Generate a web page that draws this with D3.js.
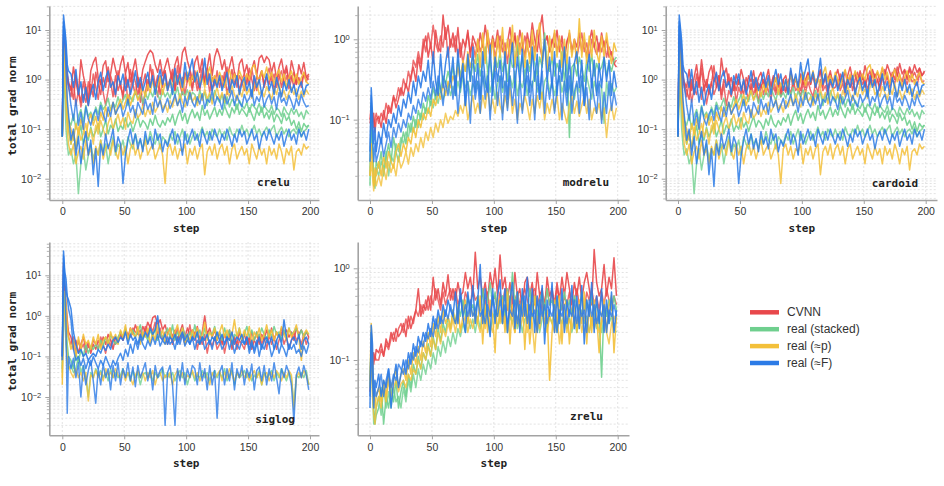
<!DOCTYPE html>
<html>
<head>
<meta charset="utf-8">
<script src="https://cdn.jsdelivr.net/npm/d3@7"></script>
<style>
  html, body { margin: 0; padding: 0; background: #fff; }
  svg { display: block; }
</style>
</head>
<body>
<svg id="chart" width="944" height="486"></svg>
<script>
// ---------------- DATA ----------------
const seriesNames = ["CVNN", "real (stacked)", "real (≈p)", "real (≈F)"];
const seriesColors = ["#e8484b", "#6fcf8e", "#f3c03a", "#2c7be6"];
const panelNames = ["crelu", "modrelu", "cardoid", "siglog", "zrelu"];
const xTicks = [0, 50, 100, 150, 200];
const steps = [0,1,2,3,4,5,
  7,9,11,13,15,17,19,21,23,25,
  27,29,31,33,35,37,39,41,43,45,
  47,49,51,53,55,57,59,61,63,65,
  67,69,71,73,75,77,79,81,83,85,
  87,89,91,93,95,97,99,101,103,105,
  107,109,111,113,115,117,119,121,123,125,
  127,129,131,133,135,137,139,141,143,145,
  147,149,151,153,155,157,159,161,163,165,
  167,169,171,173,175,177,179,181,183,185,
  187,189,191,193,195,197,199];

// ----- crelu -----
const crelu_CVNN = [
 [.1,8,5,2,1.2,.9,
  .6,1.8,.9,.5,2.5,1.2,.7,.4,1.5,2.2,
  2.8,1.1,.8,1.9,2.4,.9,1.3,2.7,1.6,1.0,
  2.0,3.0,1.3,2.2,.9,1.5,2.6,1.1,.7,1.6,
  2.3,3.2,3.9,3.4,2.0,1.4,2.5,1.2,1.8,2.7,
  1.5,.9,2.0,2.9,1.3,3.5,4.5,2.4,1.6,1.0,
  2.2,3.0,1.4,2.6,.9,1.7,3.3,1.2,2.8,4.2,
  3.0,1.6,2.5,1.1,1.8,2.9,1.4,.9,2.1,2.6,
  1.3,2.0,1.0,1.6,2.4,1.2,2.7,3.1,2.2,2.9,
  2.5,1.4,2.2,1.0,1.8,2.6,1.3,1.9,.9,2.4,
  1.5,.8,2.0,1.3,2.2,1.1,1.3],
 [.07,4,3,1.5,1,.7,
  .45,.9,.3,.6,.28,.5,.35,.9,.5,1.3,
  .7,.4,1.0,.55,.3,.6,1.2,.8,.45,1.5,
  .7,.5,1.1,.35,.6,1.4,.9,.5,.8,.3,
  .55,1.0,.7,1.6,.8,.45,1.2,.7,1.5,.6,
  .9,1.3,.6,1.9,.8,1.1,.5,.95,1.4,.7,
  1.2,.6,1.0,1.7,.8,1.3,.55,1.1,.75,1.5,
  .7,1.2,.9,1.8,.6,1.0,1.4,.7,1.2,.9,
  .6,1.3,.8,1.6,.95,.6,1.1,1.5,.8,1.2,
  1.7,.9,1.3,.7,1.1,1.5,.8,1.2,.65,1.0,
  1.4,.8,1.1,.7,1.3,.9,1.2],
 [.09,6,4,1.8,1.3,.8,
  .7,.4,1.2,.6,.35,.9,.5,.3,.8,.45,
  1.4,.8,.5,1.1,.7,1.8,.9,.45,1.2,.6,
  .9,.4,1.3,.7,1.6,.8,.5,1.1,.35,.8,
  1.3,.6,2.0,1.0,.7,1.2,.5,.9,1.5,.7,
  1.0,1.6,.6,1.2,.8,.5,1.4,.9,1.1,.6,
  1.5,.9,.6,1.3,.8,1.7,1.0,.6,1.2,.8,
  1.1,.7,1.4,.5,.9,1.6,.8,1.2,.6,1.0,
  1.3,.8,1.7,1.0,.6,1.2,.9,1.5,.7,1.1,
  .8,1.4,.6,1.0,1.3,.7,1.1,1.6,.9,1.2,
  .7,1.2,1.0,.8,1.4,1.1,1.0]
];
const crelu_stacked = [
 [.07,1.5,.8,.3,.15,.1,
  .05,.09,.04,.07,.12,.05,.08,.06,.11,.07,
  .09,.13,.07,.1,.15,.08,.12,.1,.16,.09,
  .12,.1,.17,.11,.14,.09,.13,.18,.11,.15,
  .13,.1,.16,.12,.19,.13,.11,.15,.12,.17,
  .14,.2,.12,.18,.24,.15,.21,.13,.19,.25,
  .17,.22,.15,.3,.19,.24,.16,.21,.28,.18,
  .25,.19,.3,.22,.17,.27,.21,.32,.2,.26,
  .22,.18,.27,.2,.15,.24,.19,.28,.17,.22,
  .16,.23,.14,.2,.17,.13,.21,.15,.18,.12,
  .15,.1,.14,.09,.13,.11,.12],
 [.07,1,.5,.1,.05,.03,
  .04,.02,.03,.005,.02,.04,.015,.03,.05,.025,
  .04,.03,.06,.035,.05,.02,.04,.07,.03,.05,
  .04,.06,.03,.07,.05,.04,.08,.05,.06,.04,
  .07,.05,.09,.06,.05,.08,.04,.07,.06,.05,
  .08,.06,.09,.05,.07,.1,.06,.08,.05,.07,
  .09,.06,.08,.11,.07,.09,.06,.1,.08,.07,
  .1,.07,.09,.06,.11,.08,.07,.1,.08,.12,
  .08,.1,.07,.09,.12,.08,.1,.07,.09,.11,
  .08,.1,.12,.07,.09,.11,.08,.1,.07,.09,
  .1,.08,.11,.07,.09,.1,.12],
 [.07,2,1,.4,.2,.15,
  .12,.2,.1,.18,.25,.14,.3,.18,.22,.15,
  .28,.2,.35,.25,.3,.42,.24,.33,.28,.45,
  .3,.38,.5,.3,.45,.36,.6,.4,.52,.33,
  .55,.4,.6,.45,.7,.5,.38,.62,.45,.55,
  .42,.65,.48,.7,.4,.58,.45,.62,.4,.55,
  .5,.35,.6,.42,.55,.3,.5,.38,.6,.42,
  .35,.5,.3,.45,.28,.4,.34,.25,.38,.3,
  .26,.35,.22,.32,.28,.24,.33,.22,.3,.25,
  .22,.3,.2,.27,.24,.18,.28,.22,.19,.26,
  .2,.25,.18,.22,.16,.24,.2]
];
const crelu_p = [
 [.08,5,3,1,.3,.15,
  .1,.06,.13,.08,.16,.1,.07,.14,.2,.12,
  .18,.1,.22,.15,.28,.18,.25,.35,.2,.3,
  .4,.25,.35,.5,.3,.45,.6,.38,.5,.7,
  .45,.8,.55,.95,.6,.75,1.1,.5,.85,.65,
  1.0,.7,1.3,.8,1.1,.6,.95,1.4,.75,1.2,
  .9,1.5,.8,1.1,.7,1.3,1.8,.9,1.2,.8,
  1.4,1.0,.7,1.2,1.6,.85,1.3,.9,1.5,1.1,
  .8,1.3,1.0,1.7,2.0,1.2,.9,1.5,1.1,1.8,
  1.0,1.4,.8,1.2,1.6,.9,1.3,.7,1.1,1.5,
  .9,1.3,.8,1.1,1.4,.9,.8],
 [.07,3,2,.6,.2,.1,
  .05,.09,.04,.11,.06,.08,.13,.07,.1,.05,
  .12,.08,.15,.1,.07,.13,.18,.1,.14,.2,
  .12,.17,.1,.22,.15,.13,.25,.17,.2,.3,
  .18,.26,.2,.35,.22,.28,.4,.25,.32,.22,
  .38,.28,.45,.3,.52,.35,.28,.42,.6,.35,
  .45,.3,.5,.38,.65,.4,.55,.32,.48,.7,
  .4,.55,.35,.6,.45,.75,.5,.38,.62,.45,
  .8,.5,.65,.42,.7,.9,.5,.6,.45,.72,
  .55,.4,.68,.5,.85,.45,.6,.4,.55,.7,
  .5,.65,.4,.58,.45,.62,.5],
 [.07,2,1,.3,.1,.05,
  .03,.05,.02,.035,.045,.025,.06,.03,.04,.02,
  .045,.03,.06,.025,.04,.05,.03,.06,.035,.025,
  .05,.03,.045,.02,.04,.055,.03,.045,.025,.04,
  .06,.03,.04,.05,.025,.035,.05,.03,.008,.04,
  .05,.03,.045,.025,.04,.035,.05,.02,.04,.03,
  .045,.025,.04,.05,.012,.035,.045,.03,.05,.025,
  .04,.05,.03,.045,.02,.04,.05,.025,.035,.045,
  .03,.04,.02,.05,.035,.025,.045,.03,.04,.02,
  .045,.03,.04,.025,.05,.035,.02,.04,.03,.045,
  .015,.035,.04,.03,.05,.04,.045]
];
const crelu_F = [
 [.07,20,11,6,2,1.5,
  1.3,.7,1.6,.5,.9,.35,.7,.3,.55,.8,
  .4,.9,1.4,.6,1.1,1.5,.7,.9,.5,1.2,
  .8,1.3,.6,1.0,.5,.8,1.5,.7,1.1,.6,
  .9,1.4,.7,1.2,.5,.95,1.6,.8,1.3,.6,
  1.0,.5,1.7,.8,1.3,.7,2.2,1.0,1.6,2.6,
  .9,1.4,.7,1.1,2.7,.8,1.3,.6,1.0,.7,
  1.2,.6,.9,1.4,.55,1.0,.7,1.2,.5,.85,
  1.1,.6,.9,.45,1.2,.7,1.0,.5,.8,1.3,
  .6,.9,.5,1.1,.7,.45,.9,.6,1.0,.55,
  .8,.45,.7,.9,.5,.75,.8],
 [.08,15,9,4,1.5,.8,
  .3,.15,.4,.12,.22,.1,.28,.16,.12,.2,
  .25,.15,.3,.2,.14,.28,.18,.35,.2,.26,
  .32,.18,.25,.4,.22,.3,.17,.35,.26,.2,
  .4,.25,.33,.2,.45,.28,.38,.22,.3,.42,
  .26,.35,.5,.3,.4,.22,.45,.3,.55,.35,
  .28,.45,.32,.52,.26,.4,.35,.6,.3,.45,
  .38,.25,.5,.32,.42,.6,.3,.48,.35,.28,
  .5,.35,.42,.62,.3,.45,.36,.55,.28,.4,
  .5,.32,.45,.25,.55,.35,.42,.3,.48,.36,
  .25,.42,.3,.5,.35,.28,.3],
 [.07,12,6,1.5,.4,.2,
  .06,.1,.03,.07,.02,.05,.09,.03,.06,.012,
  .04,.007,.05,.03,.08,.04,.06,.1,.035,.07,
  .05,.008,.03,.06,.1,.05,.08,.04,.065,.035,
  .09,.05,.07,.04,.1,.06,.08,.035,.06,.045,
  .07,.1,.05,.08,.06,.03,.09,.05,.07,.1,
  .06,.08,.045,.1,.07,.05,.09,.06,.1,.07,
  .05,.08,.06,.1,.07,.045,.08,.055,.1,.07,
  .09,.05,.07,.1,.06,.08,.04,.07,.09,.06,
  .1,.07,.05,.08,.06,.09,.045,.07,.1,.06,
  .08,.05,.1,.07,.09,.06,.1]
];

// ----- cardoid (real baselines are identical to crelu in the figure) -----
const cardoid_CVNN = [
 [.1,8,5,2,1.2,.9,
  .7,1.6,.6,1.1,2.0,.8,2.5,1.0,.7,1.4,
  1.9,.9,1.3,.6,2.7,1.2,1.7,.8,1.1,.6,
  1.3,.8,1.6,1.0,.6,1.2,.9,1.5,.7,1.1,
  1.4,.8,1.0,1.6,.7,1.2,.9,1.3,.6,1.0,
  1.2,.7,1.5,.9,1.1,.6,1.3,.8,1.0,1.4,
  .8,1.2,.7,1.0,1.5,.8,1.1,.6,1.3,.9,
  1.1,1.6,.9,1.3,.7,1.2,1.8,1.0,1.4,.8,
  1.5,1.0,1.9,1.2,.8,1.6,1.1,1.4,.9,1.7,
  1.2,2.0,1.4,1.0,1.7,1.2,2.1,1.3,1.6,1.0,
  1.8,1.3,2.0,1.4,1.7,1.2,1.5],
 [.08,5,3,1.5,1,.7,
  .45,.9,.35,.65,.5,1.1,.4,.8,.32,.6,
  .9,.5,.7,1.2,.4,.8,.3,.6,.45,.9,
  .35,.7,.5,.95,.6,.4,.85,.5,.7,.35,
  .8,.5,.9,.6,.4,.75,.5,.9,.45,.7,
  .55,.8,.5,.95,.6,.7,.45,.85,.55,.9,
  .6,.45,.8,.55,1.0,.6,.75,.5,.9,.65,
  .7,1.0,.6,.85,.5,1.1,.7,.9,.6,.8,
  1.2,.8,1.0,.65,.9,1.3,.75,1.0,.6,1.1,
  .8,1.2,.7,1.0,.85,1.3,.9,.7,1.1,.8,
  1.2,.9,1.0,.75,1.3,.9,.95],
 [.09,6,4,1.8,1.1,.8,
  .6,.4,1.0,.5,1.3,.7,1.7,.6,1.0,.5,
  .8,1.9,.7,1.2,.5,1.0,.7,1.3,.5,.9,
  .6,1.0,.7,.5,1.1,.8,.6,1.0,.5,.85,
  .7,1.0,.5,.9,.65,1.1,.6,.85,.5,1.0,
  .6,.9,1.2,.7,1.0,.8,.6,1.1,.7,1.3,
  .8,1.4,.9,1.1,1.6,.7,1.3,1.0,1.5,.8,
  1.1,.7,1.3,.9,1.5,.8,1.2,.6,1.0,1.4,
  .9,1.2,.7,1.1,1.5,.8,1.3,1.0,.7,1.2,
  1.6,1.1,.8,1.4,1.0,1.8,1.2,.9,1.5,1.1,
  1.6,1.1,1.4,1.0,1.7,1.2,1.4]
];
const cardoid_stacked = crelu_stacked;
const cardoid_p = crelu_p;
const cardoid_F = crelu_F;

// ----- modrelu -----
const modrelu_CVNN = [
 [.1,.15,.09,.12,.07,.1,
  .11,.08,.13,.09,.15,.12,.2,.14,.18,.25,
  .2,.28,.22,.35,.45,.3,.6,.4,.8,1.1,
  .6,.9,.5,1.3,.8,.7,2.0,1.0,1.5,.8,
  1.2,.7,1.4,.6,1.0,.8,1.3,.6,1.1,.9,
  .7,1.2,.8,1.5,.9,.6,1.1,.8,1.3,.7,
  1.0,.6,.9,1.4,.8,1.1,.7,1.3,.9,.6,
  1.2,.8,1.6,1.0,.7,1.3,2.0,.9,1.1,.7,
  1.0,.8,1.3,.7,1.1,.6,.9,1.2,.7,1.0,
  .8,1.2,.7,1.0,.6,.9,1.3,.8,1.1,.7,
  1.2,.8,1.0,.6,.7,.5,.45],
 [.09,.12,.11,.08,.1,.12,
  .09,.12,.1,.16,.12,.14,.19,.17,.25,.2,
  .32,.25,.4,.3,.55,.45,.7,.5,1.0,.7,
  1.2,.8,1.5,.9,.7,1.1,.8,1.4,.6,1.0,
  .8,1.1,.6,.9,.5,.8,1.2,.7,.9,.6,
  1.0,.7,.9,.55,1.2,.8,1.0,.6,.85,1.1,
  .7,.9,.5,1.0,.75,1.2,.6,.9,.7,1.1,
  .8,.6,1.0,.7,1.3,.8,.6,.9,1.1,.7,
  .9,1.2,.7,1.0,.8,.6,.95,1.1,.7,.9,
  .6,.85,1.2,.7,.9,.6,1.0,.8,.65,.9,
  .7,.95,.6,.8,.65,.5,.55]
];
const modrelu_stacked = [
 [.015,.16,.05,.02,.014,.03,
  .025,.04,.02,.035,.05,.03,.06,.04,.03,.05,
  .07,.05,.09,.07,.11,.08,.13,.1,.16,.12,
  .2,.15,.25,.18,.3,.22,.35,.28,.4,.3,
  .45,.3,.55,.35,.5,.4,.6,.3,.5,.4,
  .65,.35,.5,.8,.4,.55,.3,.6,.45,.7,
  .4,.55,.3,.65,.45,.5,.9,.4,.6,.35,
  .55,.4,.7,.5,.35,.6,.45,1.2,.5,.4,
  .6,.35,.5,.4,.7,.3,.55,.06,.45,.5,
  .35,.6,.45,.3,.55,.4,.65,.35,.5,.4,
  .45,.6,.35,.5,.4,.55,.6],
 [.02,.1,.04,.015,.02,.025,
  .02,.03,.025,.04,.02,.035,.03,.05,.04,.06,
  .05,.07,.06,.09,.07,.1,.08,.12,.1,.14,
  .12,.17,.14,.2,.16,.24,.18,.22,.28,.2,
  .26,.2,.3,.22,.35,.25,.3,.2,.28,.24,
  .3,.2,.35,.25,.4,.22,.3,.18,.28,.35,
  .22,.3,.2,.35,.25,.4,.2,.3,.25,.35,
  .2,.3,.25,.4,.22,.28,.18,.3,.35,.22,
  .3,.2,.28,.35,.22,.3,.2,.25,.3,.18,
  .28,.22,.3,.2,.35,.25,.18,.3,.22,.28,
  .25,.09,.3,.2,.28,.22,.25]
];
const modrelu_p = [
 [.02,.05,.03,.015,.025,.02,
  .03,.02,.035,.025,.04,.03,.025,.04,.05,.035,
  .05,.04,.06,.05,.08,.06,.1,.08,.12,.1,
  .14,.11,.18,.15,.22,.18,.28,.2,.3,.25,
  .35,.28,.45,.3,.55,.4,.7,.45,.6,.5,
  1.0,.45,1.2,.5,1.3,.55,1.0,.4,1.1,.6,
  1.4,.5,1.0,.6,1.5,.45,1.1,.65,1.2,.45,
  1.0,.5,1.3,.55,1.1,1.6,.5,1.0,.4,1.1,
  .55,1.3,.6,1.1,.45,1.0,.5,1.3,.6,1.0,
  .5,1.8,.6,1.2,.5,1.1,.6,1.3,.7,.5,
  1.1,.6,1.2,.7,.5,.9,.7],
 [.02,.03,.02,.013,.02,.015,
  .02,.015,.025,.018,.03,.022,.028,.02,.035,.025,
  .03,.04,.028,.045,.035,.05,.04,.06,.045,.07,
  .055,.08,.06,.09,.07,.1,.08,.12,.09,.11,
  .1,.13,.11,.15,.12,.18,.1,.14,.2,.12,
  .16,.12,.2,.14,.25,.13,.18,.12,.22,.15,
  .12,.2,.14,.25,.12,.18,.1,.16,.13,.2,
  .15,.1,.18,.12,.2,.14,.22,.1,.16,.12,
  .18,.13,.2,.1,.16,.12,.09,.15,.2,.12,
  .17,.11,.15,.2,.12,.18,.1,.14,.12,.16,
  .1,.14,.06,.12,.15,.1,.14]
];
const modrelu_F = [
 [.03,.25,.12,.05,.08,.04,
  .07,.05,.09,.06,.1,.08,.12,.09,.15,.11,
  .18,.14,.22,.16,.3,.2,.35,.25,.4,.3,
  .55,.25,.7,.3,.2,.65,.25,.5,.8,.3,
  .6,.2,.75,.25,.5,.15,.65,.3,.8,.22,
  .5,.18,.7,.3,.22,.85,.2,.6,.3,.55,
  .25,.7,.18,.5,.9,.25,.6,.3,.75,.2,
  .55,.22,.8,.3,.65,.18,.5,1.0,.3,.6,
  .25,.7,.2,.55,.3,.8,.22,.6,.2,.5,
  .7,.25,.55,.15,.4,.65,.25,.55,.2,.5,
  .25,.6,.3,.55,.2,.4,.25],
 [.04,.2,.06,.03,.05,.03,
  .04,.06,.035,.05,.07,.045,.08,.06,.09,.07,
  .1,.08,.12,.1,.15,.12,.18,.14,.22,.17,
  .25,.18,.3,.2,.35,.25,.15,.3,.2,.35,
  .18,.35,.12,.28,.4,.15,.3,.09,.35,.18,
  .3,.12,.4,.18,.35,.1,.28,.4,.15,.35,
  .1,.3,.13,.35,.15,.3,.09,.35,.12,.25,
  .35,.15,.3,.1,.35,.18,.4,.12,.3,.18,
  .32,.12,.25,.35,.1,.3,.15,.35,.12,.22,
  .3,.12,.35,.15,.25,.1,.32,.18,.12,.3,
  .09,.22,.12,.3,.13,.22,.15]
];

// ----- siglog -----
const siglog_CVNN = [
 [.08,20,5,2,.8,.4,
  .3,.15,.25,.12,.2,.3,.15,.22,.12,.2,
  .15,.25,.18,.3,.2,.35,.25,.15,.3,.22,
  .35,.25,.45,.3,.5,.35,.6,.4,.3,.55,
  .4,.7,.5,.9,1.0,.6,.8,.45,.6,.35,
  .5,.3,.45,.25,.4,.6,.3,.5,.35,.45,
  .3,.55,.25,.4,1.0,.35,.5,.3,.45,.25,
  .4,.2,.35,.25,.45,.15,.3,.2,.4,.25,
  .35,.2,.3,.15,.25,.4,.2,.35,.25,.45,
  .3,.5,.25,.4,.3,.5,.35,.45,.3,.4,
  .25,.5,.35,.45,.3,.4,.3],
 [.1,10,3,1.5,.5,.3,
  .2,.3,.12,.25,.15,.2,.12,.18,.15,.25,
  .2,.15,.3,.2,.12,.25,.18,.3,.2,.25,
  .4,.25,.45,.35,.3,.5,.4,.35,.45,.3,
  .55,.35,.6,.4,.7,.35,.5,.25,.4,.2,
  .35,.2,.3,.5,.25,.4,.2,.3,.6,.25,
  .4,.15,.3,.2,.35,.12,.25,.18,.3,.15,
  .2,.3,.12,.25,.35,.2,.3,.15,.25,.2,
  .15,.3,.2,.4,.25,.18,.35,.2,.3,.15,
  .35,.2,.3,.15,.25,.4,.2,.3,.15,.25,
  .4,.25,.3,.2,.35,.2,.3]
];
const siglog_stacked = [
 [.05,4,2,.6,.2,.1,
  .08,.05,.12,.07,.15,.1,.2,.12,.18,.15,
  .2,.15,.25,.18,.3,.2,.35,.25,.2,.3,
  .4,.3,.5,.25,.35,.45,.3,.4,.6,.3,
  .35,.25,.45,.3,.5,.25,.4,.3,.35,.5,
  .3,.6,.25,.4,.3,.5,.35,.25,.4,.3,
  .6,.3,.45,.25,.5,.3,.4,.35,.55,.3,
  .4,.25,.5,.3,.45,.2,.35,.3,.5,.25,
  .35,.55,.3,.45,.25,.4,.3,.5,.35,.25,
  .45,.3,.55,.35,.4,.25,.45,.3,.5,.35,
  .4,.5,.3,.45,.3,.4,.35],
 [.04,2,.8,.2,.08,.05,
  .06,.04,.05,.1,.04,.06,.03,.01,.04,.03,
  .05,.035,.045,.03,.04,.025,.05,.03,.04,.03,
  .035,.05,.03,.04,.025,.045,.03,.04,.02,.035,
  .04,.03,.045,.025,.04,.03,.035,.05,.03,.04,
  .03,.04,.025,.035,.045,.03,.04,.02,.035,.04,
  .025,.035,.03,.045,.03,.04,.025,.035,.045,.03,
  .04,.03,.05,.025,.035,.045,.02,.04,.03,.035,
  .045,.03,.04,.025,.035,.03,.045,.02,.04,.03,
  .035,.045,.025,.04,.03,.05,.035,.025,.04,.03,
  .006,.035,.03,.04,.03,.045,.02]
];
const siglog_p = [
 [.02,3,4,2,.6,.3,
  .15,.25,.1,.3,.15,.35,.2,.25,.15,.3,
  .2,.35,.15,.25,.3,.2,.4,.25,.35,.2,
  .45,.3,.6,.25,.5,.35,.3,.55,.2,.4,
  .3,.5,.2,.4,.25,.6,.3,.45,.2,.35,
  .5,.25,.4,.6,.3,.5,.2,.35,.25,.45,
  .3,.5,.2,.35,.7,.25,.4,.3,.5,.25,
  .4,.6,.3,.45,.25,.35,.8,.3,.5,.25,
  .45,.3,.55,.2,.4,.3,.5,.25,.35,.6,
  .3,.45,.25,.4,.3,.55,.35,.25,.5,.3,
  .4,.6,.3,.08,.35,.45,.35],
 [.03,2,1,.3,.1,.06,
  .04,.03,.05,.03,.04,.025,.04,.008,.035,.03,
  .045,.03,.04,.025,.05,.035,.04,.03,.05,.035,
  .03,.045,.025,.04,.03,.02,.035,.045,.03,.04,
  .025,.04,.03,.045,.02,.035,.04,.025,.035,.03,
  .04,.02,.035,.045,.03,.04,.025,.035,.03,.045,
  .03,.04,.025,.035,.04,.03,.02,.04,.03,.035,
  .045,.025,.04,.03,.05,.035,.025,.04,.03,.045,
  .03,.04,.025,.035,.045,.03,.04,.02,.035,.04,
  .025,.04,.03,.045,.035,.025,.04,.03,.045,.035,
  .005,.03,.04,.03,.045,.035,.02]
];
const siglog_F = [
 [.1,40,12,8,3,2.5,
  1.5,.4,.2,.12,.15,.1,.12,.08,.1,.12,
  .1,.15,.12,.18,.14,.2,.15,.25,.3,.22,
  .3,.25,.4,.2,.35,.25,.3,.2,.35,.25,
  .4,.3,.5,.35,.45,1.0,.3,.25,.35,.2,
  .3,.25,.35,.2,.3,.4,.25,.35,.2,.3,
  .25,.4,.2,.3,.25,.35,.2,.3,.25,.4,
  .25,.35,.2,.3,.25,.4,.2,.3,.25,.35,
  .2,.3,.15,.25,.12,.2,.3,.15,.25,.3,
  .2,.3,.15,.25,.35,.2,.8,.3,.15,.25,
  .3,.2,.35,.15,.25,.3,.2],
 [.08,30,10,.5,.004,.1,
  .05,.09,.03,.07,.01,.06,.02,.045,.08,.025,
  .007,.05,.02,.065,.03,.05,.015,.06,.025,.07,
  .02,.05,.03,.07,.025,.055,.018,.06,.03,.045,
  .07,.025,.05,.015,.06,.03,.045,.055,.002,.04,
  .06,.02,.002,.05,.025,.07,.02,.05,.03,.06,
  .05,.02,.07,.025,.05,.015,.06,.02,.045,.003,
  .04,.06,.02,.05,.025,.07,.015,.05,.03,.06,
  .02,.05,.03,.065,.015,.045,.055,.025,.06,.02,
  .05,.025,.07,.03,.012,.05,.03,.06,.04,.02,
  .0025,.035,.055,.03,.06,.035,.015],
 [.1,15,6,4,3,1.5,
  .8,.15,.08,.1,.06,.09,.05,.08,.06,.1,
  .07,.05,.08,.06,.1,.07,.05,.08,.06,.09,
  .12,.08,.15,.1,.2,.12,.25,.15,.3,.2,
  .15,.25,.18,.3,.2,.35,.18,.25,.2,.3,
  .2,.25,.15,.3,.2,.35,.18,.25,.2,.3,
  .15,.25,.2,.3,.15,.2,.25,.15,.3,.2,
  .25,.15,.2,.3,.15,.25,.12,.2,.15,.25,
  .2,.3,.12,.2,.15,.25,.1,.2,.15,.25,
  .2,.1,.15,.25,.12,.2,.15,.1,.2,.15,
  .2,.12,.15,.1,.18,.12,.2]
];

// ----- zrelu -----
const zrelu_CVNN = [
 [.045,.1,.08,.12,.1,.13,
  .12,.15,.11,.17,.14,.2,.16,.22,.18,.2,
  .25,.18,.3,.22,.28,.35,.6,.3,.4,.35,
  .5,.35,.8,.45,.6,.4,.7,.5,.85,.45,
  .6,.45,.7,.5,.55,.9,.6,.8,.5,1.5,
  .6,.8,.5,.7,.45,.9,.6,1.0,.5,1.4,
  .6,.8,.45,.7,.4,.9,.5,.6,.35,.7,
  .8,.5,.7,.4,.9,.5,.6,.35,.8,.5,
  .6,.4,.7,.45,.8,.5,.9,.6,.4,.7,
  .5,.8,.45,.7,.9,.6,.4,1.6,.7,.5,
  .6,1.1,.5,.8,.6,1.3,.5],
 [.06,.08,.1,.09,.11,.1,
  .1,.13,.11,.15,.13,.17,.2,.16,.22,.25,
  .2,.28,.22,.3,.25,.35,.3,.4,.32,.45,
  .35,.5,.4,.6,.45,.35,.55,.4,.5,.6,
  .45,.6,.4,.5,.35,.55,.45,.4,.6,.45,
  .5,.35,.6,.4,.55,.3,.45,.5,.35,.55,
  .4,.6,.35,.5,.3,.45,.55,.4,.5,.6,
  .45,.35,.55,.6,.4,.5,.35,.45,.6,.4,
  .55,.4,.6,.45,.35,.5,.4,.55,.3,.45,
  .6,.4,.5,.35,.55,.45,.6,.4,.5,.35,
  .55,.4,.6,.45,.35,.5,.4]
];
const zrelu_stacked = [
 [.05,.2,.08,.03,.02,.025,
  .03,.05,.02,.04,.03,.05,.035,.06,.03,.045,
  .06,.04,.07,.05,.09,.07,.11,.08,.12,.1,
  .15,.11,.18,.13,.22,.16,.25,.2,.3,.22,
  .35,.25,.4,.3,.45,.3,.5,.35,.4,.3,
  .5,.35,.6,.3,.45,.7,.4,.55,.3,.45,
  .5,.3,.6,.35,.9,.4,.55,.3,.5,.4,
  .3,.6,.35,.5,.3,.45,.55,.35,.6,.4,
  .45,.35,.5,.3,.4,.55,.35,.45,.3,.5,
  .4,.3,.55,.35,.45,.3,.5,.35,.4,.3,
  .065,.4,.3,.45,.35,.5,.35],
 [.06,.12,.05,.02,.025,.03,
  .04,.025,.05,.03,.045,.03,.05,.035,.04,.03,
  .05,.035,.06,.045,.07,.05,.08,.06,.09,.07,
  .1,.08,.12,.09,.14,.11,.16,.12,.18,.14,
  .2,.15,.22,.18,.25,.2,.3,.22,.28,.2,
  .3,.22,.35,.25,.3,.2,.28,.35,.22,.3,
  .25,.35,.2,.3,.25,.35,.22,.3,.2,.28,
  .3,.22,.35,.25,.3,.2,.28,.35,.22,.3,
  .25,.35,.2,.3,.25,.35,.22,.3,.2,.28,
  .2,.28,.35,.25,.3,.2,.28,.35,.22,.3,
  .2,.28,.35,.25,.3,.22,.2]
];
const zrelu_p = [
 [.06,.25,.1,.05,.03,.04,
  .05,.035,.06,.04,.07,.05,.06,.08,.05,.07,
  .08,.06,.1,.07,.12,.09,.14,.1,.16,.12,
  .2,.14,.25,.18,.3,.2,.35,.25,.3,.22,
  .35,.25,.4,.2,.3,.45,.25,.4,.3,.35,
  .25,.5,.15,.4,.2,.45,.3,.12,.5,.25,
  .45,.2,.55,.15,.4,.2,.5,.25,.45,.13,
  .4,.15,.3,.5,.2,.4,.45,.25,.35,.06,
  .2,.45,.25,.5,.15,.4,.45,.15,.3,.4,
  .2,.45,.25,.55,.15,.4,.2,.45,.3,.12,
  .3,.45,.2,.4,.5,.12,.3],
 [.05,.15,.04,.025,.02,.03,
  .04,.03,.05,.035,.06,.04,.05,.06,.045,.055,
  .06,.05,.07,.06,.08,.07,.1,.08,.12,.1,
  .14,.11,.17,.13,.2,.15,.22,.18,.25,.2,
  .28,.2,.3,.22,.25,.3,.2,.28,.22,.3,
  .25,.2,.3,.22,.35,.25,.2,.3,.22,.35,
  .25,.3,.2,.35,.25,.2,.3,.22,.28,.35,
  .2,.3,.25,.12,.3,.22,.35,.25,.2,.3,
  .25,.2,.3,.15,.25,.3,.2,.28,.22,.3,
  .25,.35,.2,.3,.25,.2,.3,.22,.28,.2,
  .25,.3,.2,.15,.25,.3,.25]
];
const zrelu_F = [
 [.03,.24,.15,.04,.06,.05,
  .07,.04,.06,.05,.08,.03,.06,.09,.05,.07,
  .1,.07,.12,.09,.15,.11,.18,.14,.2,.16,
  .25,.18,.3,.22,.35,.25,.4,.3,.45,.35,
  .3,.55,.25,.6,.3,.2,.55,.3,.65,.25,
  .45,1.1,.25,.6,.3,.18,.6,.25,.5,.75,
  .25,.6,.2,.45,.7,.22,.55,.2,.6,.3,
  .8,.22,.6,.2,.5,.25,.65,.15,.45,.3,
  .7,.2,.5,.25,.6,.2,.45,.3,.65,.22,
  .5,.22,.65,.15,.45,.3,.7,.2,.5,.25,
  .6,.2,.45,.25,.55,.2,.35],
 [.04,.2,.06,.03,.05,.04,
  .05,.07,.04,.06,.08,.05,.07,.06,.09,.08,
  .07,.1,.08,.12,.1,.14,.12,.16,.14,.2,
  .17,.22,.18,.28,.22,.3,.25,.35,.28,.4,
  .3,.25,.35,.5,.3,.4,.3,.45,.3,.35,
  .45,.3,.35,.25,.4,.3,.5,.35,.3,.45,
  .3,.4,.25,.35,.3,.45,.25,.4,.3,.5,
  .25,.4,.3,.35,.2,.45,.3,.4,.25,.35,
  .3,.4,.2,.35,.3,.4,.25,.35,.3,.45,
  .25,.4,.3,.35,.2,.45,.3,.4,.25,.35,
  .3,.4,.2,.35,.3,.4,.3]
];

const panelData = {
  crelu:   [crelu_CVNN, crelu_stacked, crelu_p, crelu_F],
  modrelu: [modrelu_CVNN, modrelu_stacked, modrelu_p, modrelu_F],
  cardoid: [cardoid_CVNN, cardoid_stacked, cardoid_p, cardoid_F],
  siglog:  [siglog_CVNN, siglog_stacked, siglog_p, siglog_F],
  zrelu:   [zrelu_CVNN, zrelu_stacked, zrelu_p, zrelu_F]
};

// ---------------- LAYOUT ----------------
const layout = {
  crelu:   {left:49.3, right:319, top:6,   bottom:200,   x0:62.3, x200:310,   ref:[[0.01,178.7],[10,30]],   label:[290,186], ylab:true},
  modrelu: {left:357.7,right:629, top:6,   bottom:200,   x0:370,  x200:617.7, ref:[[0.01,200],[1,39.3]],    label:[609,186], ylab:false},
  cardoid: {left:665.7,right:937, top:6,   bottom:200,   x0:678,  x200:925.7, ref:[[0.01,178.7],[10,30]],   label:[918,187], ylab:false},
  siglog:  {left:49.3, right:319, top:242, bottom:435.3, x0:62.3, x200:310,   ref:[[0.01,397],[10,275.3]],  label:[295,423], ylab:true},
  zrelu:   {left:357.7,right:629, top:242, bottom:435.3, x0:370,  x200:617.7, ref:[[0.1,360],[1,268.3]],    label:[603,420], ylab:false}
};

const svg = d3.select("#chart");
const tickFont = "'Liberation Sans', Arial, Helvetica, sans-serif";
const monoFont = "'DejaVu Sans Mono', monospace";
const axisColor = "#a3a3a3";
const runOpacity = [0.9, 0.8, 0.85];

panelNames.forEach((name) => {
  const L = layout[name];
  const xBase = d3.scaleLinear().domain([0, 200]).range([L.x0, L.x200]);
  const x = d3.scaleLinear().domain([xBase.invert(L.left), xBase.invert(L.right)]).range([L.left, L.right]);
  const yBase = d3.scaleLog().domain([L.ref[0][0], L.ref[1][0]]).range([L.ref[0][1], L.ref[1][1]]);
  const y = d3.scaleLog().domain([yBase.invert(L.bottom), yBase.invert(L.top)]).range([L.bottom, L.top]);
  const [ymin, ymax] = y.domain();

  const g = svg.append("g");

  const majors = [], minors = [];
  for (let e = Math.floor(Math.log10(ymin)); e <= Math.ceil(Math.log10(ymax)); e++) {
    for (let m = 1; m <= 9; m++) {
      const v = m * Math.pow(10, e);
      if (v >= ymin && v <= ymax) (m === 1 ? majors : minors).push(v);
    }
  }

  const grid = g.append("g").attr("stroke", "#dcdcdc").attr("stroke-width", 0.8).attr("stroke-dasharray", "2,2");
  grid.selectAll("line.h").data(majors.concat(minors)).join("line")
    .attr("x1", L.left).attr("x2", L.right)
    .attr("y1", d => y(d)).attr("y2", d => y(d));
  grid.selectAll("line.v").data(xTicks).join("line")
    .attr("x1", d => x(d)).attr("x2", d => x(d))
    .attr("y1", L.top).attr("y2", L.bottom);

  const clipId = "clip-" + name;
  svg.append("clipPath").attr("id", clipId).append("rect")
    .attr("x", L.left).attr("y", L.top).attr("width", L.right - L.left).attr("height", L.bottom - L.top);

  const line = d3.line().x(d => x(d[0])).y(d => y(d[1]));

  const lines = g.append("g").attr("clip-path", `url(#${clipId})`);
  panelData[name].forEach((runs, si) => {
    runs.forEach((run, ri) => {
      if (run.length !== steps.length) console.warn(name, si, ri, "length", run.length);
      const pts = run.slice(0, steps.length).map((v, i) => [steps[i], v]);
      lines.append("path")
        .attr("d", line(pts))
        .attr("fill", "none")
        .attr("stroke", seriesColors[si])
        .attr("stroke-width", 1.5)
        .attr("stroke-linejoin", "round")
        .attr("stroke-opacity", runOpacity[ri % runOpacity.length]);
    });
  });

  const gx = g.append("g").attr("transform", `translate(0,${L.bottom})`)
    .call(d3.axisBottom(x).tickValues(xTicks).tickSize(4).tickSizeOuter(0).tickPadding(4).tickFormat(d3.format("d")));
  gx.select(".domain").attr("stroke", axisColor).attr("stroke-width", 1.6);
  gx.selectAll(".tick line").attr("stroke", axisColor).attr("stroke-width", 1);
  gx.selectAll(".tick text").attr("fill", "#333").attr("font-size", 10.5).attr("font-family", tickFont);

  const gym = g.append("g").attr("transform", `translate(${L.left},0)`)
    .call(d3.axisLeft(y).tickValues(minors).tickSize(2.5).tickFormat(""));
  gym.select(".domain").remove();
  gym.selectAll(".tick line").attr("stroke", axisColor).attr("stroke-width", 0.8);

  const gy = g.append("g").attr("transform", `translate(${L.left},0)`)
    .call(d3.axisLeft(y).tickValues(majors).tickSize(4).tickSizeOuter(0).tickPadding(4).tickFormat(""));
  gy.select(".domain").attr("stroke", axisColor).attr("stroke-width", 1.6);
  gy.selectAll(".tick line").attr("stroke", axisColor).attr("stroke-width", 1);
  gy.selectAll(".tick text").each(function(d) {
    const t = d3.select(this);
    const e = Math.round(Math.log10(d));
    t.text(null).attr("fill", "#333").attr("font-family", tickFont).attr("font-size", 10.5);
    t.append("tspan").text("10");
    t.append("tspan").attr("font-size", 7.5).attr("dy", "-0.45em").text(e < 0 ? "−" + (-e) : String(e));
  });

  g.append("text")
    .attr("x", (L.x0 + L.x200) / 2).attr("y", L.bottom + 32)
    .attr("text-anchor", "middle")
    .attr("font-family", monoFont).attr("font-weight", "bold").attr("font-size", 11)
    .attr("fill", "#222").text("step");

  if (L.ylab) {
    g.append("text")
      .attr("transform", `translate(16,${(L.top + L.bottom) / 2 + 3}) rotate(-90)`)
      .attr("text-anchor", "middle")
      .attr("font-family", monoFont).attr("font-weight", "bold").attr("font-size", 11)
      .attr("fill", "#222").text("total grad norm");
  }

  g.append("text")
    .attr("x", L.label[0]).attr("y", L.label[1])
    .attr("text-anchor", "end")
    .attr("font-family", monoFont).attr("font-weight", "bold").attr("font-size", 11)
    .attr("fill", "#222").text(name);
});

const legendY = d3.scalePoint().domain(seriesNames).range([312.3, 363]);
const lg = svg.append("g");
seriesNames.forEach((s, i) => {
  lg.append("line")
    .attr("x1", 750).attr("x2", 779)
    .attr("y1", legendY(s)).attr("y2", legendY(s))
    .attr("stroke", seriesColors[i]).attr("stroke-width", 4.5);
  lg.append("text")
    .attr("x", 787).attr("y", legendY(s) + 4)
    .attr("font-family", tickFont).attr("font-size", 12)
    .attr("fill", "#333").text(s);
});
</script>
</body>
</html>
